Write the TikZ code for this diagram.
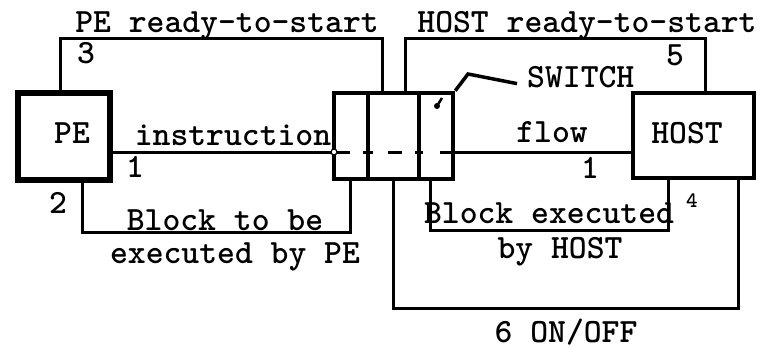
\documentclass[tikz,border=0pt]{standalone}
\usepackage{fontspec}
\newfontfamily\tw{lmmonolt10-bold.otf}
\begin{document}
\begin{tikzpicture}[x=1pt,y=-1pt,
  box/.style={draw,line width=5pt,inner sep=0pt},
  conn/.style={draw,line width=3pt},
  lbl/.style={font=\tw\fontsize{34}{34}\selectfont,inner sep=0pt,anchor=base},
  small/.style={font=\tw\fontsize{22}{22}\selectfont,inner sep=0pt,anchor=base}]
\useasboundingbox (0,0) rectangle (761,348);
% boxes
\node[box,line width=5.5pt,minimum width=92pt,minimum height=87pt] (pe) at (64,136.5) {};
\node[box,line width=4.5pt,minimum width=119pt,minimum height=86pt] (sw) at (393.5,136) {};
\node[box,line width=4.5pt,minimum width=121pt,minimum height=85pt] (host) at (693.5,135.5) {};
% switch dividers
\coordinate (d1t) at (368,93); \coordinate (d1b) at (368,179);
\coordinate (d2t) at (419,93); \coordinate (d2b) at (419,179);
\draw[line width=4pt] (d1t) -- (d1b);
\draw[line width=4pt] (d2t) -- (d2b);
% connection points
\coordinate (pe3) at (60,93);   \coordinate (sw3) at (382,93);
\coordinate (sw5) at (405,93);  \coordinate (host5) at (705,93);
\coordinate (pe2) at (82,180);  \coordinate (sw2) at (350,179);
\coordinate (sw4) at (430,179); \coordinate (host4) at (668,178);
\coordinate (sw6) at (393,179); \coordinate (host6) at (738,178);
\coordinate (pe1) at (110,152); \coordinate (sw1) at (334,152);
\coordinate (sw1r) at (453,152); \coordinate (host1) at (633,152);
% connectors
\draw[conn] (pe3) -- ++(0,-55) -| (sw3);
\draw[conn] (sw5) -- ++(0,-55) -| (host5);
\draw[conn] (pe2) -- ++(0,52) -| (sw2);
\draw[conn] (sw4) -- ++(0,51) -| (host4);
\draw[conn] (sw6) -- ++(0,129) -| (host6);
\draw[conn] (pe1) -- (sw1);
\draw[conn] (sw1r) -- (host1);
% dashed flow inside switch
\coordinate (a1) at (334,152); \coordinate (a2) at (350,152);
\coordinate (b1) at (363,152); \coordinate (b2) at (373,152);
\coordinate (c1) at (388,152); \coordinate (c2) at (402,152);
\coordinate (e1) at (415,152); \coordinate (e2) at (423,152);
\coordinate (f1) at (440,152); \coordinate (f2) at (453,152);
\draw[conn] (a1) -- (a2);
\draw[conn] (b1) -- (b2);
\draw[conn] (c1) -- (c2);
\draw[conn] (e1) -- (e2);
\draw[conn] (f1) -- (f2);
\node[circle,draw,fill=white,line width=1.2pt,minimum size=6pt,inner sep=0pt] (dot) at (sw1) {};
% labels
\node[lbl] (t3l) at (227,32) {PE ready-to-start};
\node[lbl] (t5l) at (587,32) {HOST ready-to-start};
\node[lbl] (n3) at (86,63) {3};
\node[lbl] (n5) at (675,65) {5};
\node[lbl] (petxt) at (72,143) {PE};
\node[lbl] (hosttxt) at (687,143) {HOST};
\node[lbl] (instr) at (233,145) {instruction};
\node[lbl] (flow) at (552,142) {flow};
\node[lbl] (n1a) at (135,177) {1};
\node[lbl] (n1b) at (590,178) {1};
\node[lbl] (n2) at (58,213) {2};
\node[lbl] (blk1) at (225,230) {Block to be};
\node[lbl] (blk2) at (235,263) {executed by PE};
\node[lbl] (blk3) at (549,223) {Block executed};
\node[small] (n4) at (692,207) {4};
\node[lbl] (blk4) at (560,258) {by HOST};
\node[lbl] (onoff) at (566,342) {6 ON/OFF};
\node[lbl,anchor=base west] (swl) at (527,87) {SWITCH};
% switch pointer
\coordinate (pk) at (468,74);
\draw[line width=3.5pt] (swl.west) ++(-10pt,-7pt) -- (pk) -- (sw.north east);
\coordinate (tk1) at (442,98); \coordinate (tk2) at (437,106);
\draw[line width=2.5pt] (tk1) -- (tk2);
\fill (tk2) circle (3pt);
\end{tikzpicture}
\end{document}
